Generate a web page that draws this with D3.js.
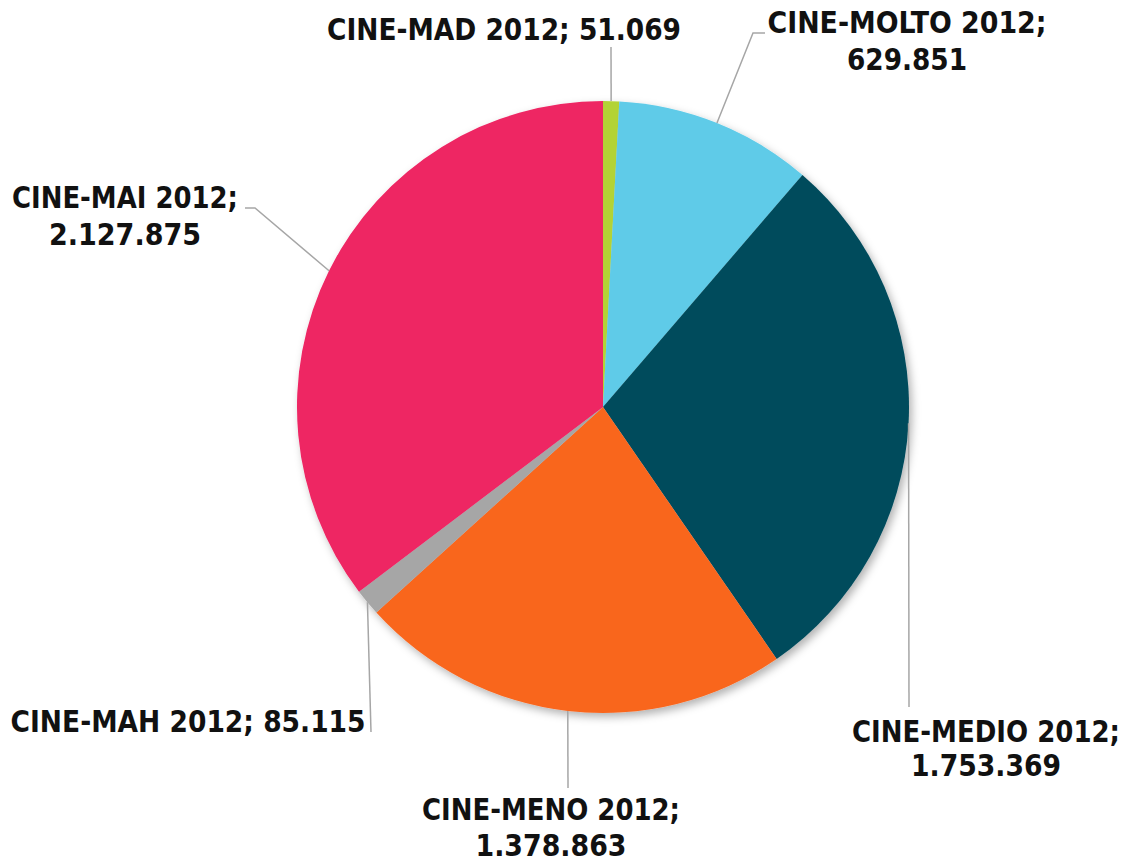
<!DOCTYPE html>
<html><head><meta charset="utf-8">
<script src="https://cdn.jsdelivr.net/npm/d3@7"></script>
<style>body{margin:0;background:#fff}</style>
</head><body>
<script>
const categories = ["CINE-MAD 2012", "CINE-MOLTO 2012", "CINE-MEDIO 2012", "CINE-MENO 2012", "CINE-MAH 2012", "CINE-MAI 2012"];
const values = [51069, 629851, 1753369, 1378863, 85115, 2127875];
const valueLabels = ["51.069", "629.851", "1.753.369", "1.378.863", "85.115", "2.127.875"];
const colors = ["#b3d334", "#5ecbe8", "#034b5c", "#f9661f", "#a6a6a6", "#ee2563"];

// label layout (positions only)
const labelLayout = [
  {lines: 1, x: 504, y: [40], w: [354], anchor: "middle", bend: null, end: [611, 47]},
  {lines: 2, x: 907, y: [33, 70], w: [279, 120], anchor: "middle", bend: [753, 33], end: [765, 33]},
  {lines: 2, x: 986, y: [742, 776], w: [268, 150], anchor: "middle", bend: null, end: [909, 707]},
  {lines: 2, x: 551, y: [820, 856], w: [258, 151], anchor: "middle", bend: null, end: [568, 788]},
  {lines: 1, x: 188, y: [732], w: [355], anchor: "middle", bend: null, end: [371, 732]},
  {lines: 2, x: 125, y: [208, 245], w: [226, 152], anchor: "middle", bend: [255, 208], end: [245, 208]}
];

const W = 1122, H = 860, cx = 603, cy = 407, R = 306;
const svg = d3.select("body").append("svg").attr("width", W).attr("height", H);
const defs = svg.append("defs");
const f = defs.append("filter").attr("id", "sh").attr("x", "-10%").attr("y", "-10%").attr("width", "120%").attr("height", "120%");
f.append("feDropShadow").attr("dx", 3).attr("dy", 4).attr("stdDeviation", 4).attr("flood-color", "#000").attr("flood-opacity", 0.3);

const data = categories.map((c, i) => ({cat: c, value: values[i], label: valueLabels[i], color: colors[i], lay: labelLayout[i]}));
const pie = d3.pie().value(d => d.value).sort(null);
const arcs = pie(data);
const arc = d3.arc().innerRadius(0).outerRadius(R);

const g = svg.append("g").attr("transform", `translate(${cx},${cy})`);
g.append("g").attr("filter", "url(#sh)")
  .selectAll("path").data(arcs).join("path")
  .attr("d", arc).attr("fill", d => d.data.color);

// leader lines
arcs.forEach(a => {
  const m = (a.startAngle + a.endAngle) / 2;
  const sx = cx + R * Math.sin(m), sy = cy - R * Math.cos(m);
  const L = a.data.lay;
  const pts = [[sx, sy]];
  if (L.bend) pts.push(L.bend);
  pts.push(L.end);
  svg.append("path").attr("d", d3.line()(pts))
    .attr("fill", "none").attr("stroke", "#a6a6a6").attr("stroke-width", 1.5);
});

// labels
arcs.forEach(a => {
  const L = a.data.lay;
  const lines = L.lines === 1 ? [a.data.cat + "; " + a.data.label] : [a.data.cat + ";", a.data.label];
  lines.forEach((t, j) => {
    svg.append("text").attr("x", L.x).attr("y", L.y[j])
      .attr("text-anchor", L.anchor)
      .attr("font-family", "'DejaVu Sans Condensed', 'DejaVu Sans', sans-serif")
      .attr("font-weight", "bold").attr("font-size", 30)
      .attr("fill", "#111")
      .attr("textLength", L.w[j]).attr("lengthAdjust", "spacingAndGlyphs")
      .text(t);
  });
});
</script>
</body></html>
